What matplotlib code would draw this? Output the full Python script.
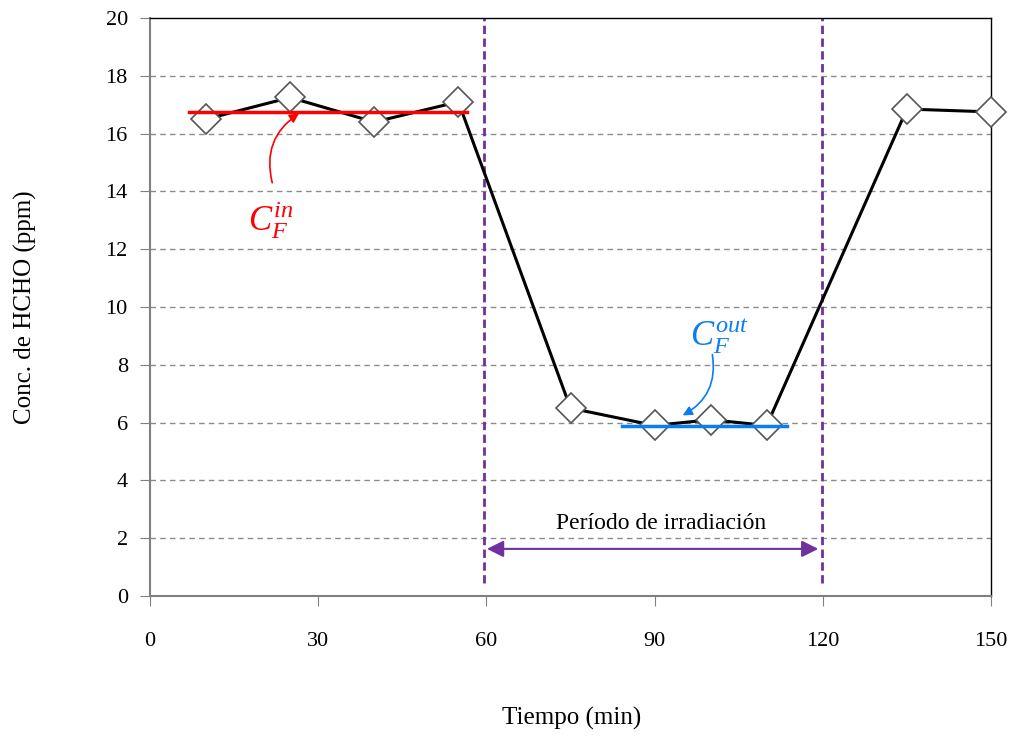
import matplotlib
matplotlib.use("Agg")
import matplotlib.pyplot as plt

plt.rcParams['font.family'] = ['Liberation Serif', 'DejaVu Serif']
plt.rcParams['mathtext.fontset'] = 'custom'
plt.rcParams['mathtext.rm'] = 'Liberation Serif'
plt.rcParams['mathtext.it'] = 'Liberation Serif:italic'

# measured HCHO concentration
tiempo = [10, 25, 40, 55, 75, 90, 100, 110, 135, 150]
conc = [16.5, 17.25, 16.4, 17.1, 6.5, 5.9, 6.1, 5.9, 16.85, 16.75]

# mean levels
c_in = 16.75
c_in_span = [7, 56.5]
c_out = 5.88
c_out_span = [84.2, 113.6]

# irradiation window
irr_start = 59.5
irr_end = 119.8

xticks = [0, 30, 60, 90, 120, 150]
yticks = list(range(0, 21, 2))

fig = plt.figure(figsize=(10.15, 7.38), dpi=100)
ax = fig.add_axes([150 / 1015, 1 - 596 / 738, (991 - 150) / 1015, (596 - 18) / 738])

for y in yticks[1:-1]:
    ax.axhline(y, color='#8c8c8c', lw=1, ls=(0, (4, 3)), zorder=1)

ax.plot(tiempo, conc, color='black', lw=2.2, marker='D', markersize=15,
        markerfacecolor='white', markeredgecolor='#555555', markeredgewidth=1.2,
        zorder=3, clip_on=False)

ax.plot(c_in_span, [c_in, c_in], color='#ff0000', lw=2.5, zorder=4)
ax.plot(c_out_span, [c_out, c_out], color='#0a7cf5', lw=2.5, zorder=4)

for xv in [irr_start, irr_end]:
    ax.plot([xv, xv], [0.45, 20], color='#7030a0', lw=2, ls=(0, (3, 1.6)), zorder=2)

ax.annotate('', xy=(irr_start + 0.6, 1.63), xytext=(irr_end - 0.6, 1.63),
            arrowprops=dict(arrowstyle='<|-|>', color='#7030a0', lw=1.5,
                            mutation_scale=25, shrinkA=0, shrinkB=0))
ax.text((irr_start + irr_end) / 2 + 1.5, 2.5, 'Período de irradiación',
        ha='center', va='center', fontsize=17)

ax.annotate('', xy=(26.6, c_in - 0.05), xytext=(21.8, 14.3),
            arrowprops=dict(arrowstyle='-|>', color='#ff0000', lw=1.2,
                            mutation_scale=14, shrinkA=0, shrinkB=0,
                            connectionstyle='arc3,rad=-0.35'))
ax.text(21.5, 13.0, r'$C_F^{in}$', color='#ff0000', fontsize=25,
        ha='center', va='center')

ax.annotate('', xy=(95.0, 6.25), xytext=(100.3, 8.35),
            arrowprops=dict(arrowstyle='-|>', color='#0a7cf5', lw=1.2,
                            mutation_scale=14, shrinkA=0, shrinkB=0,
                            connectionstyle='arc3,rad=-0.35'))
ax.text(101.5, 9.0, r'$C_F^{out}$', color='#0a7cf5', fontsize=25,
        ha='center', va='center')

ax.set_xlim(0, 150)
ax.set_ylim(0, 20)
ax.set_xticks(xticks)
ax.set_yticks(yticks)
ax.tick_params(axis='both', direction='out', length=7, color='#808080',
               labelsize=16)
ax.tick_params(axis='x', pad=19)
ax.tick_params(axis='y', pad=9)
for side in ['left', 'bottom']:
    ax.spines[side].set_color('#808080')
    ax.spines[side].set_linewidth(1.5)
for side in ['top', 'right']:
    ax.spines[side].set_color('black')
    ax.spines[side].set_linewidth(1.0)

fig.text(25 / 1015, 1 - 307 / 738, 'Conc. de HCHO (ppm)', rotation=90,
         ha='center', va='center', fontsize=18)
fig.text(572 / 1015, 1 - 718 / 738, 'Tiempo (min)', ha='center', va='center',
         fontsize=18)

fig.savefig('out.png', dpi=100)
